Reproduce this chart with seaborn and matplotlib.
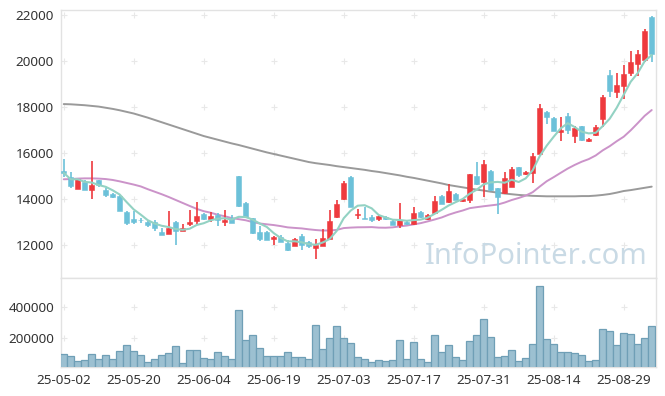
import numpy as np
import pandas as pd
import matplotlib
matplotlib.use("Agg")
import matplotlib.pyplot as plt
import seaborn as sns

dates = [
    "25-05-02", "25-05-07", "25-05-08", "25-05-09", "25-05-12", "25-05-13", "25-05-14", "25-05-15",
    "25-05-16", "25-05-19", "25-05-20", "25-05-21", "25-05-22", "25-05-23", "25-05-26", "25-05-27",
    "25-05-28", "25-05-29", "25-05-30", "25-06-02", "25-06-04", "25-06-05", "25-06-09", "25-06-10",
    "25-06-11", "25-06-12", "25-06-13", "25-06-16", "25-06-17", "25-06-18", "25-06-19", "25-06-20",
    "25-06-23", "25-06-24", "25-06-25", "25-06-26", "25-06-27", "25-06-30", "25-07-01", "25-07-02",
    "25-07-03", "25-07-04", "25-07-07", "25-07-08", "25-07-09", "25-07-10", "25-07-11", "25-07-14",
    "25-07-15", "25-07-16", "25-07-17", "25-07-18", "25-07-21", "25-07-22", "25-07-23", "25-07-24",
    "25-07-25", "25-07-28", "25-07-29", "25-07-30", "25-07-31", "25-08-01", "25-08-04", "25-08-05",
    "25-08-06", "25-08-07", "25-08-08", "25-08-11", "25-08-12", "25-08-13", "25-08-14", "25-08-18",
    "25-08-19", "25-08-20", "25-08-21", "25-08-22", "25-08-25", "25-08-26", "25-08-27", "25-08-28",
    "25-08-29", "25-09-01", "25-09-02", "25-09-03", "25-09-04",
]

opens = [15230, 14980, 14460, 14750, 14420, 14840, 14400, 14230, 14140, 13450,
         13140, 13110, 13010, 13010, 12560, 12510, 13000, 12640, 12930, 13070,
         13350, 13160, 13330, 13010, 13200, 15010, 13840, 13170, 12590, 12580,
         12270, 12370, 12100, 11980, 12400, 12140, 11880, 11970, 12290, 13220,
         14010, 14980, 13300, 13190, 13230, 13160, 13240, 13070, 12870, 13030,
         12910, 13450, 13140, 13390, 14140, 13870, 14230, 13930, 13970, 15010,
         14770, 15230, 14480, 14260, 14550, 15390, 15090, 15160, 15980, 17790,
         17530, 16940, 17620, 16770, 17170, 16550, 16780, 17470, 19400, 18670,
         18940, 19500, 19900, 20060, 21940]
highs = [15740, 15170, 14890, 14840, 15665, 14860, 14500, 14290, 14200, 13500,
         13470, 13200, 13100, 13100, 12750, 13490, 13070, 12910, 13520, 13870,
         13420, 13460, 13420, 13520, 13300, 15020, 13900, 13200, 12850, 12600,
         12400, 12450, 12220, 12330, 12480, 12200, 12260, 12700, 13530, 13960,
         14810, 15000, 13590, 13680, 13300, 13300, 13280, 13160, 13830, 13070,
         13650, 13480, 13360, 14140, 14200, 14650, 14260, 14050, 15110, 15630,
         15710, 15260, 14500, 15190, 15420, 15420, 15230, 16030, 18140, 17830,
         17560, 17560, 17760, 17190, 17200, 16650, 17220, 18520, 19620, 19480,
         19830, 20460, 20490, 21390, 21950]
lows = [14980, 14500, 14440, 14400, 14000, 14520, 14100, 14070, 13480, 12870,
        12930, 12970, 12780, 12640, 12440, 12490, 12000, 12620, 12850, 12910,
        13110, 13030, 12830, 12850, 12970, 13660, 13180, 12510, 12170, 12230,
        12010, 12130, 11750, 11960, 11800, 11900, 11400, 11950, 12250, 13200,
        13990, 13650, 13130, 13150, 13010, 13060, 13080, 12880, 12740, 12870,
        12880, 13200, 13120, 13380, 13780, 13850, 13950, 13900, 13850, 14600,
        14110, 14380, 13360, 14240, 14530, 14990, 15060, 14720, 15950, 17270,
        16950, 16520, 16830, 16460, 16550, 16500, 16760, 17130, 18430, 18390,
        18370, 19360, 19360, 19960, 19970]
closes = [15150, 14590, 14870, 14420, 14610, 14610, 14200, 14110, 13500, 12950,
          13030, 13080, 12900, 12770, 12460, 12750, 12640, 12750, 13010, 13270,
          13130, 13270, 13110, 13110, 12980, 13720, 13220, 12550, 12270, 12240,
          12370, 12160, 11810, 12290, 12030, 11970, 12010, 12310, 13060, 13780,
          14720, 13680, 13370, 13160, 13100, 13270, 13130, 12900, 13100, 12930,
          13420, 13240, 13330, 13930, 13800, 14360, 13970, 14010, 15090, 14650,
          15530, 14400, 14110, 14910, 15300, 15040, 15190, 15880, 17960, 17590,
          16980, 17010, 17010, 17100, 16590, 16620, 17140, 18450, 18720, 18970,
          19450, 19970, 20320, 21320, 20300]
volumes = [96600, 83700, 53500, 60000, 96600, 66500, 90100, 66500, 115900, 154600,
           115900, 90100, 44900, 66500, 90100, 103000, 148200, 40700, 122400, 122400,
           70800, 66500, 109500, 83700, 66500, 380500, 186900, 219200, 135300, 83700,
           83700, 83700, 109500, 77200, 77200, 66500, 283700, 128800, 199800, 277200,
           199800, 167500, 77200, 64300, 44900, 57900, 51400, 57900, 186900, 64300,
           174000, 64300, 44900, 219200, 109500, 154600, 77200, 57900, 180500, 219200,
           322400, 206300, 77200, 83700, 122400, 51400, 70800, 161100, 537400, 193400,
           161100, 109500, 109500, 103000, 90100, 51400, 57900, 257900, 245000, 154600,
           232100, 225600, 161100, 199800, 277200]
# 20-day average before enough history
ma20_head = [14870, 14880, 14900, 14910, 14910, 14900, 14880, 14840, 14780, 14710,
             14640, 14560, 14440, 14330, 14220, 14100, 13970, 13840, 13710]
# long moving average
ma_long = [18140, 18130, 18110, 18090, 18060, 18030, 17980, 17930, 17870, 17800,
           17730, 17640, 17550, 17450, 17350, 17250, 17150, 17050, 16950, 16850,
           16750, 16670, 16590, 16510, 16430, 16360, 16280, 16200, 16120, 16040,
           15970, 15900, 15830, 15760, 15690, 15620, 15570, 15530, 15490, 15440,
           15400, 15360, 15320, 15280, 15230, 15190, 15140, 15090, 15040, 14980,
           14930, 14870, 14810, 14750, 14690, 14620, 14570, 14520, 14470, 14420,
           14380, 14330, 14290, 14250, 14220, 14190, 14170, 14150, 14140, 14130,
           14130, 14130, 14130, 14130, 14140, 14140, 14160, 14190, 14230, 14290,
           14360, 14400, 14450, 14500, 14550]
price_ticks = [12000, 14000, 16000, 18000, 20000, 22000]
vol_ticks = [200000, 400000]

df = pd.DataFrame({"date": dates, "open": opens, "high": highs, "low": lows,
                   "close": closes, "volume": volumes})
df["idx"] = np.arange(len(df))
df["ma5"] = df["close"].rolling(5, min_periods=1).mean()
ma20 = df["close"].rolling(20).mean()
ma20.iloc[:len(ma20_head)] = ma20_head
df["ma20"] = ma20
df["malong"] = ma_long

sns.set_theme(style="white")
plt.rcParams["font.family"] = ["Noto Sans", "DejaVu Sans"]

W, H = 665, 396
fig = plt.figure(figsize=(W / 100, H / 100), dpi=100)
L, R = 61, 655.7
ax = fig.add_axes([L / W, 1 - 277.5 / H, (R - L) / W, (277.5 - 10) / H])
axv = fig.add_axes([L / W, 1 - 366.7 / H, (R - L) / W, (366.7 - 278) / H], sharex=ax)

UP = "#EE3A3E"
DOWN = "#6CC1D9"
up = df["close"] >= df["open"]
colors = np.where(up, UP, DOWN)

# moving averages
sns.lineplot(data=df, x="idx", y="malong", ax=ax, color="#9a9a9a", lw=1.4, zorder=1)
sns.lineplot(data=df, x="idx", y="ma20", ax=ax, color="#CB93C9", lw=1.4, zorder=1)

# candles
ax.vlines(df["idx"], df["low"], df["high"], colors=colors, lw=1.2, zorder=3)
body_lo = np.minimum(df["open"], df["close"])
body_h = np.maximum(np.abs(df["close"] - df["open"]), 25)
ax.bar(df["idx"], body_h, bottom=body_lo, width=0.72, color=colors,
       edgecolor=colors, linewidth=0.4, zorder=4)

sns.lineplot(data=df, x="idx", y="ma5", ax=ax, color="#93D2C3", lw=1.5, zorder=5)

ax.set_xlim(-0.39, 84.57)
ax.set_ylim(10600, 22230)
ax.set_yticks(price_ticks)
ax.set_yticklabels([str(v) for v in price_ticks])
ax.set_xlabel("")
ax.set_ylabel("")
ax.tick_params(axis="x", bottom=False, labelbottom=False)

# volume
axv.bar(df["idx"], df["volume"], width=1.0, color="#9CC0D1", edgecolor="#6F9FB6",
        linewidth=0.9, zorder=3)
axv.set_ylim(16800, 589000)
axv.set_yticks(vol_ticks)
axv.set_yticklabels([str(v) for v in vol_ticks])
xt = list(range(0, len(dates), 10))
axv.set_xticks(xt)
axv.set_xticklabels([dates[i] for i in xt])
axv.set_xlabel("")
axv.set_ylabel("")

for a in (ax, axv):
    a.tick_params(axis="both", length=0, labelsize=9.7, colors="#333333", pad=5)
    for s in a.spines.values():
        s.set_color("#e2e2e2")
        s.set_linewidth(1.0)
    a.grid(False)

# grid "+" markers at tick intersections
gx, gy = np.meshgrid(xt, price_ticks)
ax.scatter(gx.ravel(), gy.ravel(), marker="+", s=14, color="#e8e8e8", lw=0.8, zorder=0)
gx2, gy2 = np.meshgrid(xt, vol_ticks)
axv.scatter(gx2.ravel(), gy2.ravel(), marker="+", s=14, color="#e8e8e8", lw=0.8, zorder=0)

ax.text(0.987, 0.078, "InfoPointer.com", transform=ax.transAxes, ha="right", va="center",
        fontsize=21, color="#C9DAE5", zorder=0)

fig.savefig("out.png", dpi=100)
